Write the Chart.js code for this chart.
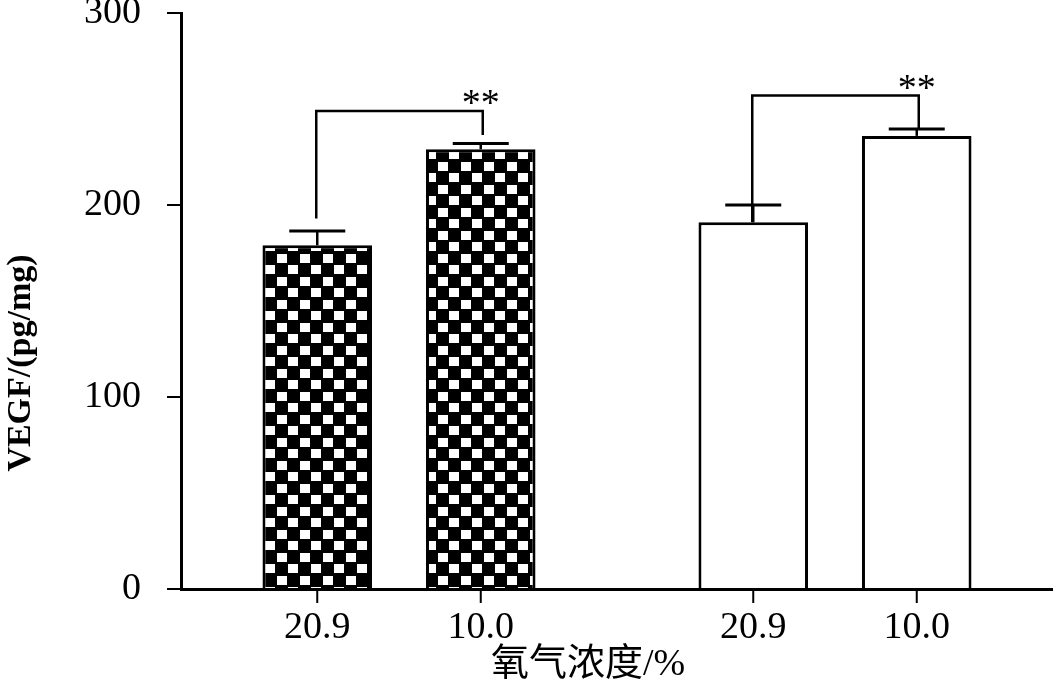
<!DOCTYPE html>
<html>
<head>
<meta charset="utf-8">
<script src="https://cdn.jsdelivr.net/npm/chart.js@4.4.1/dist/chart.umd.min.js"></script>
<style>
  html, body { margin: 0; padding: 0; background: #fff; }
  canvas { display: block; }
</style>
</head>
<body>
<canvas id="vegfChart" width="1053" height="689"></canvas>
<script>
// データ
const groups = ['group1', 'group2'];          // 左: 模様付き, 右: 白抜き
const oxygenLabels = ['20.9', '10.0'];        // 酸素濃度 (%)
const vegf209 = [179, 191];
const vegf100 = [229, 236];
const err209 = [7.5, 9];
const err100 = [3, 3.6];
const yTicks = [0, 100, 200, 300];
// 有意差ブラケット (y値)
const bracketTop = [249, 257];
const bracketLeftEnd = [193, 191];
const bracketRightEnd = [236.5, 240];
const sigMarks = ['**', '**'];

const xTitle = '氧气浓度/%';
const yTitle = 'VEGF/(pg/mg)';

const serif = "'Liberation Serif', 'Times New Roman', serif";

// チェック柄パターン
function makePattern() {
    const c = document.createElement('canvas');
    c.width = 23;
    c.height = 23;
    const g = c.getContext('2d');
    g.fillStyle = '#000';
    g.fillRect(0, 0, 23, 23);
    g.fillStyle = '#fff';
    g.fillRect(1, 1, 10, 9);
    g.fillRect(12, 12, 10, 9);
    return g.createPattern(c, 'repeat');
}
const checker = makePattern();
const barFills = [checker, '#fff'];

// エラーバー・ブラケット・軸ラベルの描画
const annotations = {
    id: 'annotations',
    afterDatasetsDraw(chart) {
        const ctx = chart.ctx;
        const y = chart.scales.y;
        const area = chart.chartArea;
        const errs = [err209, err100];
        const vals = [vegf209, vegf100];
        ctx.save();
        ctx.strokeStyle = '#000';
        ctx.fillStyle = '#000';

        // エラーバー
        chart.data.datasets.forEach((ds, i) => {
            const meta = chart.getDatasetMeta(i);
            meta.data.forEach((bar, j) => {
                const top = y.getPixelForValue(vals[i][j] + errs[i][j]);
                ctx.lineWidth = 2.5;
                ctx.beginPath();
                ctx.moveTo(bar.x, bar.y);
                ctx.lineTo(bar.x, top);
                ctx.stroke();
                ctx.lineWidth = 3;
                ctx.beginPath();
                ctx.moveTo(bar.x - 28, top);
                ctx.lineTo(bar.x + 28, top);
                ctx.stroke();

                // x軸の目盛とラベル
                ctx.lineWidth = 2;
                ctx.beginPath();
                ctx.moveTo(bar.x, area.bottom);
                ctx.lineTo(bar.x, area.bottom + 14);
                ctx.stroke();
                ctx.font = '38px ' + serif;
                ctx.textAlign = 'center';
                ctx.textBaseline = 'middle';
                ctx.fillText(oxygenLabels[i], bar.x, area.bottom + 39);
            });
        });

        // 有意差ブラケット
        const left = chart.getDatasetMeta(0).data;
        const right = chart.getDatasetMeta(1).data;
        groups.forEach((g, j) => {
            const xl = left[j].x - 1;
            const xr = right[j].x + 2;
            const yt = y.getPixelForValue(bracketTop[j]);
            ctx.lineWidth = 2.5;
            ctx.beginPath();
            ctx.moveTo(xl, y.getPixelForValue(bracketLeftEnd[j]));
            ctx.lineTo(xl, yt);
            ctx.lineTo(xr, yt);
            ctx.lineTo(xr, y.getPixelForValue(bracketRightEnd[j]));
            ctx.stroke();

            ctx.font = '38px ' + serif;
            ctx.textAlign = 'center';
            ctx.textBaseline = 'alphabetic';
            const m = ctx.measureText(sigMarks[j]);
            const mid = (m.actualBoundingBoxAscent - m.actualBoundingBoxDescent) / 2;
            ctx.fillText(sigMarks[j], xr - 2, yt - 13 + mid);
        });

        // 軸タイトル
        ctx.font = "38px 'Liberation Serif', 'Noto Sans CJK SC', serif";
        ctx.textAlign = 'center';
        ctx.textBaseline = 'middle';
        ctx.fillText(xTitle, 588, area.bottom + 76);

        ctx.translate(21, 363);
        ctx.rotate(-Math.PI / 2);
        ctx.font = 'bold 34px ' + serif;
        ctx.fillText(yTitle, 0, 0);
        ctx.restore();
    }
};

new Chart(document.getElementById('vegfChart').getContext('2d'), {
    type: 'bar',
    data: {
        labels: groups,
        datasets: [
            {
                label: oxygenLabels[0],
                data: vegf209,
                backgroundColor: barFills,
                borderColor: '#000',
                borderWidth: 3,
                borderSkipped: 'start',
                categoryPercentage: 0.75,
                barPercentage: 0.67
            },
            {
                label: oxygenLabels[1],
                data: vegf100,
                backgroundColor: barFills,
                borderColor: '#000',
                borderWidth: 3,
                borderSkipped: 'start',
                categoryPercentage: 0.75,
                barPercentage: 0.67
            }
        ]
    },
    options: {
        responsive: false,
        animation: false,
        layout: {
            padding: { top: 13, right: 0, bottom: 0, left: 0 }
        },
        plugins: {
            legend: { display: false },
            tooltip: { enabled: false }
        },
        scales: {
            x: {
                grid: { display: false },
                border: { display: true, color: '#000', width: 3 },
                ticks: { display: false },
                afterFit(scale) {
                    scale.height = 100;
                    scale.paddingLeft = 0;
                    scale.paddingRight = 0;
                }
            },
            y: {
                min: 0,
                max: 300,
                afterBuildTicks(scale) {
                    scale.ticks = yTicks.map(v => ({ value: v }));
                },
                grid: {
                    drawOnChartArea: false,
                    drawTicks: true,
                    tickLength: 14,
                    color: '#000',
                    lineWidth: 2
                },
                border: { display: true, color: '#000', width: 3 },
                ticks: {
                    color: '#000',
                    padding: 26,
                    font: { family: serif, size: 38 }
                },
                afterFit(scale) {
                    scale.width = 181;
                    scale.paddingTop = 0;
                    scale.paddingBottom = 0;
                }
            }
        }
    },
    plugins: [annotations]
});
</script>
</body>
</html>
